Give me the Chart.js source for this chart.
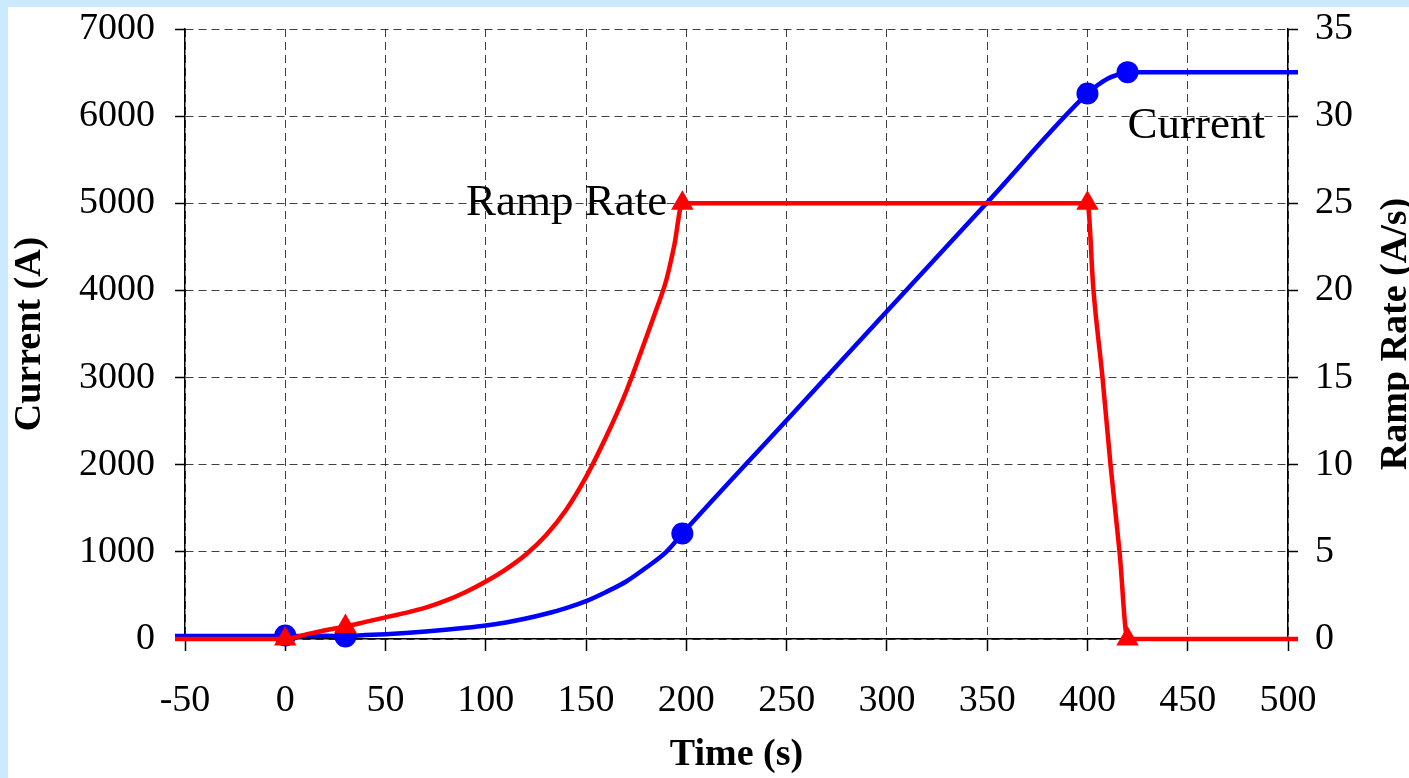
<!DOCTYPE html>
<html>
<head>
<meta charset="utf-8">
<script src="https://cdn.jsdelivr.net/npm/chart.js@4/dist/chart.umd.min.js"></script>
<style>
  html, body { margin: 0; padding: 0; overflow: hidden; background: #cceaff; }
  #wrap { width: 1409px; height: 778px; position: relative; }
</style>
</head>
<body>
<div id="wrap"><canvas id="rampChart"></canvas></div>
<script>
// Current (A) vs time (s)
const currentTime = [-55, 0, 10, 20, 30, 40, 50, 60, 70, 80, 90, 100, 110, 120, 130, 140, 150, 160, 170, 180, 190, 198, 250, 300, 350, 400, 405, 410, 415, 420, 505];
const currentAmps = [35, 35, 35, 36, 35, 45, 55, 68, 85, 105, 128, 155, 190, 235, 290, 355, 435, 540, 660, 820, 1000, 1210, 2510, 3760, 5010, 6260, 6355, 6430, 6475, 6505, 6505];

// Ramp rate (A/s) vs time (s)
const rampTime = [-55, 0, 10, 20, 30, 40, 50, 60, 70, 80, 90, 100, 110, 120, 130, 140, 150, 160, 170, 180, 185, 190, 194, 198, 400, 403, 407.5, 411.5, 416, 420, 505];
const rampRate = [0, 0, 0.25, 0.5, 0.72, 0.98, 1.24, 1.5, 1.8, 2.2, 2.7, 3.3, 4.0, 4.85, 5.95, 7.4, 9.3, 11.6, 14.2, 17.3, 18.9, 20.6, 22.6, 25, 25, 20, 15, 10, 5, 0, 0];

// marked points
const currentMarkTime = [0, 30, 198, 400, 420];
const currentMarkAmps = [40, 30, 1210, 6260, 6505];
const rampMarkTime = [0, 30, 198, 400, 420];
const rampMarkRate = [0, 0.72, 25, 25, 0];

const serif = '"Liberation Serif", "Times New Roman", serif';
const pts = (xs, ys) => xs.map((x, i) => ({ x: x, y: ys[i] }));

const decor = {
    id: 'decor',
    beforeDraw(chart) {
        const ctx = chart.ctx;
        ctx.save();
        ctx.fillStyle = '#cceaff';
        ctx.fillRect(0, 0, chart.width, chart.height);
        ctx.fillStyle = '#ffffff';
        ctx.fillRect(8, 7, chart.width - 8, chart.height - 7);
        ctx.restore();
    },
    afterDraw(chart) {
        const ctx = chart.ctx;
        const xs = chart.scales.x, ys = chart.scales.y;
        ctx.save();
        ctx.fillStyle = '#000';
        ctx.font = '45px ' + serif;
        ctx.textBaseline = 'middle';
        // labels next to the curves
        ctx.textAlign = 'right';
        ctx.fillText('Ramp Rate', xs.getPixelForValue(190.5), ys.getPixelForValue(5000));
        ctx.textAlign = 'left';
        ctx.fillText('Current', xs.getPixelForValue(420), ys.getPixelForValue(5890));
        // right axis title, reading bottom to top
        ctx.translate(1396, (chart.chartArea.top + chart.chartArea.bottom) / 2);
        ctx.rotate(-Math.PI / 2);
        ctx.textAlign = 'center';
        ctx.font = 'bold 38px ' + serif;
        ctx.fillText('Ramp Rate (A/s)', 0, 0);
        ctx.restore();
    }
};

const ctx = document.getElementById('rampChart').getContext('2d');
new Chart(ctx, {
    type: 'line',
    data: {
        datasets: [
            {
                // red drawn on top
                label: 'Ramp Rate markers',
                data: pts(rampMarkTime, rampMarkRate),
                yAxisID: 'y1',
                showLine: false,
                pointStyle: 'triangle',
                pointRadius: 13,
                backgroundColor: '#ff0000',
                borderColor: '#ff0000',
                borderWidth: 0,
                clip: false,
                order: 0
            },
            {
                label: 'Ramp Rate',
                data: pts(rampTime, rampRate),
                yAxisID: 'y1',
                borderColor: '#ff0000',
                borderWidth: 4.5,
                pointRadius: 0,
                cubicInterpolationMode: 'monotone',
                clip: false,
                order: 1
            },
            {
                label: 'Current markers',
                data: pts(currentMarkTime, currentMarkAmps),
                yAxisID: 'y',
                showLine: false,
                pointStyle: 'circle',
                pointRadius: 11,
                backgroundColor: '#0000ff',
                borderColor: '#0000ff',
                borderWidth: 0,
                clip: false,
                order: 2
            },
            {
                label: 'Current',
                data: pts(currentTime, currentAmps),
                yAxisID: 'y',
                borderColor: '#0000ff',
                borderWidth: 4.5,
                pointRadius: 0,
                cubicInterpolationMode: 'monotone',
                clip: false,
                order: 3
            }
        ]
    },
    options: {
        responsive: true,
        maintainAspectRatio: false,
        animation: false,
        layout: { padding: { top: 29, left: 0, right: 0, bottom: 0 } },
        plugins: {
            legend: { display: false },
            tooltip: { enabled: false }
        },
        scales: {
            x: {
                type: 'linear',
                min: -50,
                max: 500,
                afterFit: s => { s.height = 139; s.paddingLeft = 0; s.paddingRight = 0; },
                ticks: {
                    stepSize: 50,
                    padding: 27,
                    color: '#000',
                    font: { family: serif, size: 38 },
                    callback: v => String(v)
                },
                grid: {
                    color: 'rgba(0,0,0,0.75)',
                    lineWidth: 1,
                    tickLength: 12,
                    tickColor: '#000',
                    tickWidth: 1.5
                },
                border: { display: true, color: '#000', width: 1.5, dash: [8, 5] },
                title: {
                    display: true,
                    text: 'Time (s)',
                    color: '#000',
                    font: { family: serif, size: 38, weight: 'bold' },
                    padding: { top: 0, bottom: 0 }
                }
            },
            y: {
                position: 'left',
                min: 0,
                max: 7000,
                afterFit: s => { s.width = 185; s.paddingTop = 0; s.paddingBottom = 0; },
                ticks: {
                    stepSize: 1000,
                    padding: 20,
                    color: '#000',
                    font: { family: serif, size: 38 },
                    callback: v => String(v)
                },
                grid: {
                    color: 'rgba(0,0,0,0.75)',
                    lineWidth: 1,
                    tickLength: 10,
                    tickColor: '#000',
                    tickWidth: 1.5
                },
                border: { display: true, color: '#000', width: 1.5, dash: [8, 5] },
                title: {
                    display: true,
                    text: 'Current (A)',
                    color: '#000',
                    font: { family: serif, size: 38, weight: 'bold' },
                    padding: { top: 7, bottom: 0 }
                }
            },
            y1: {
                position: 'right',
                min: 0,
                max: 35,
                afterFit: s => { s.width = 121; s.paddingTop = 0; s.paddingBottom = 0; },
                ticks: {
                    stepSize: 5,
                    padding: 17,
                    color: '#000',
                    font: { family: serif, size: 38 }
                },
                grid: {
                    drawOnChartArea: false,
                    tickLength: 10,
                    tickColor: '#000',
                    tickWidth: 1.5
                },
                border: { display: true, color: '#000', width: 1.5 },
                title: { display: false }
            }
        }
    },
    plugins: [decor]
});
</script>
</body>
</html>
